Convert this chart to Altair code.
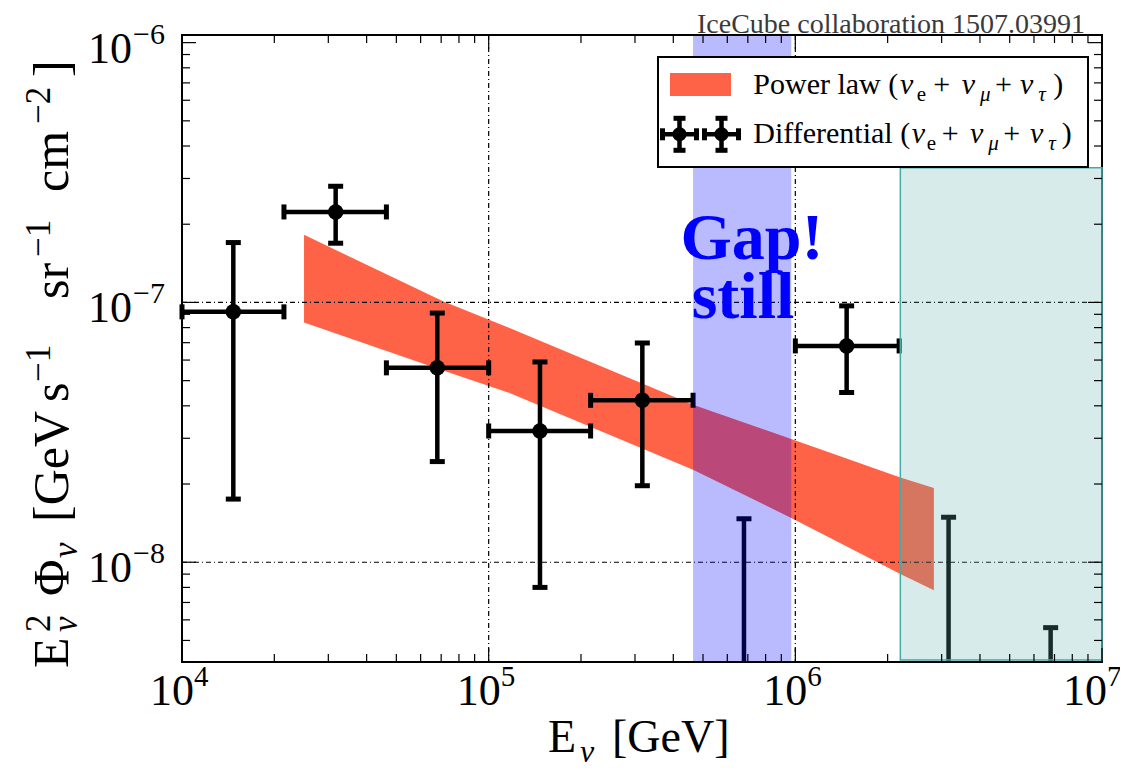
import altair as alt
import pandas as pd

# ---------------- data ----------------
# differential flux points (E^2 Phi, GeV s^-1 sr^-1 cm^-2)
bin_lo = [1.0e4, 2.15e4, 4.64e4, 1.0e5, 2.15e5, 1.0e6]
bin_hi = [2.15e4, 4.64e4, 1.0e5, 2.15e5, 4.64e5, 2.18e6]
e_center = [1.47e4, 3.17e4, 6.8e4, 1.47e5, 3.17e5, 1.47e6]
flux = [9.2e-8, 2.23e-7, 5.6e-8, 3.2e-8, 4.2e-8, 6.8e-8]
flux_lo = [1.75e-8, 1.69e-7, 2.44e-8, 8.0e-9, 1.97e-8, 4.5e-8]
flux_hi = [1.70e-7, 2.80e-7, 9.1e-8, 5.9e-8, 6.98e-8, 9.7e-8]

# upper limits
ul_e = [6.8e5, 3.16e6, 6.8e6]
ul_flux = [1.47e-8, 1.49e-8, 5.6e-9]

# power-law band
band_e = [2.5e4, 7.1e4, 1.17e5, 4.64e5, 9.7e5, 2.2e6, 2.83e6]
band_hi = [1.82e-7, 1.01e-7, 7.97e-8, 4.04e-8, 2.98e-8, 2.12e-8, 1.93e-8]
band_lo = [8.37e-8, 5.47e-8, 4.48e-8, 2.27e-8, 1.48e-8, 9.0e-9, 7.8e-9]

# shaded regions
gap_e = [4.64e5, 9.7e5]
box_e = [2.2e6, 1.0e7]
box_f = [4.2e-9, 3.3e-7]

# axes
XMIN, XMAX = 1e4, 1e7
YMIN, YMAX = 4.13e-9, 1.07e-6
x_major = [1e4, 1e5, 1e6, 1e7]
x_major_exp = ["4", "5", "6", "7"]
y_major = [1e-8, 1e-7, 1e-6]
y_major_exp = ["\u22128", "\u22127", "\u22126"]
x_minor = [k * 10 ** d for d in (4, 5, 6) for k in range(2, 10)]
y_minor = [k * 1e-9 for k in range(5, 10)] + [k * 1e-8 for k in range(2, 10)] + [k * 1e-7 for k in range(2, 10)]
grid_x = [1e5, 1e6]
grid_y = [1e-8, 1e-7]

# ---------------- layout ----------------
W, H = 920, 627
OX, OY = 182, 35   # plot origin on the page
SERIF = "Liberation Serif"

xs = alt.Scale(type="log", domain=[XMIN, XMAX], nice=False)
ys = alt.Scale(type="log", domain=[YMIN, YMAX], nice=False)


def X(f):
    return alt.X(f, type="quantitative", scale=xs, axis=None)


def Y(f):
    return alt.Y(f, type="quantitative", scale=ys, axis=None)


pts = pd.DataFrame(dict(e=e_center, lo=bin_lo, hi=bin_hi, f=flux, flo=flux_lo, fhi=flux_hi))
ul = pd.DataFrame(dict(e=ul_e, f=ul_flux))
band = pd.DataFrame(dict(e=band_e, hi=band_hi, lo=band_lo))
gap = pd.DataFrame(dict(a=[gap_e[0]], b=[gap_e[1]]))
box = pd.DataFrame(dict(a=[box_e[0]], b=[box_e[1]], c=[box_f[0]], d=[box_f[1]]))

layers = []

# power-law band
layers.append(alt.Chart(band).mark_area(color="#ff6347", opacity=1).encode(x=X("e"), y=Y("hi"), y2="lo"))

# gridlines
dash = [5, 3, 1, 3]
layers.append(alt.Chart(pd.DataFrame(dict(v=grid_x))).mark_rule(color="black", strokeWidth=1.2, strokeDash=dash)
              .encode(x=X("v"), y=alt.value(0), y2=alt.value(H)))
layers.append(alt.Chart(pd.DataFrame(dict(v=grid_y))).mark_rule(color="black", strokeWidth=1.2, strokeDash=dash)
              .encode(y=Y("v"), x=alt.value(0), x2=alt.value(W)))

# error bars
EW, CAPW, CAPL = 4.5, 5, 15
layers.append(alt.Chart(pts).mark_rule(color="black", strokeWidth=EW).encode(x=X("e"), y=Y("flo"), y2="fhi"))
layers.append(alt.Chart(pts).mark_rule(color="black", strokeWidth=EW).encode(x=X("lo"), x2="hi", y=Y("f")))
layers.append(alt.Chart(pts).mark_tick(color="black", orient="horizontal", thickness=CAPW, size=CAPL, opacity=1)
              .encode(x=X("e"), y=Y("flo")))
layers.append(alt.Chart(pts).mark_tick(color="black", orient="horizontal", thickness=CAPW, size=CAPL, opacity=1)
              .encode(x=X("e"), y=Y("fhi")))
layers.append(alt.Chart(pts).mark_tick(color="black", orient="vertical", thickness=CAPW, size=CAPL, opacity=1)
              .encode(x=X("lo"), y=Y("f")))
layers.append(alt.Chart(pts).mark_tick(color="black", orient="vertical", thickness=CAPW, size=CAPL, opacity=1)
              .encode(x=X("hi"), y=Y("f")))
layers.append(alt.Chart(pts).mark_circle(color="black", size=240, opacity=1).encode(x=X("e"), y=Y("f")))

# upper limits
layers.append(alt.Chart(ul).mark_rule(color="black", strokeWidth=EW).encode(x=X("e"), y=Y("f"), y2=alt.value(H)))
layers.append(alt.Chart(ul).mark_tick(color="black", orient="horizontal", thickness=CAPW, size=CAPL, opacity=1)
              .encode(x=X("e"), y=Y("f")))

# gap band & teal box
layers.append(alt.Chart(gap).mark_rect(color="#0000ff", opacity=0.27)
              .encode(x=X("a"), x2="b", y=alt.value(0), y2=alt.value(H)))
layers.append(alt.Chart(box).mark_rect(fill="#5fafaa", fillOpacity=0.25, stroke="#45aaa4", strokeWidth=1.5)
              .encode(x=X("a"), x2="b", y=Y("c"), y2="d"))

# inward ticks on all four sides
for vals, L in ((x_major, 14), (x_minor, 8)):
    d = pd.DataFrame(dict(v=vals))
    layers.append(alt.Chart(d).mark_rule(color="black", strokeWidth=1.2)
                  .encode(x=X("v"), y=alt.value(H), y2=alt.value(H - L)))
    layers.append(alt.Chart(d).mark_rule(color="black", strokeWidth=1.2)
                  .encode(x=X("v"), y=alt.value(0), y2=alt.value(L)))
for vals, L in ((y_major, 14), (y_minor, 8)):
    d = pd.DataFrame(dict(v=vals))
    layers.append(alt.Chart(d).mark_rule(color="black", strokeWidth=1.2)
                  .encode(y=Y("v"), x=alt.value(0), x2=alt.value(L)))
    layers.append(alt.Chart(d).mark_rule(color="black", strokeWidth=1.2)
                  .encode(y=Y("v"), x=alt.value(W), x2=alt.value(W - L)))

# tick labels (10 + superscript exponent); the last x label is nudged left to stay on the page
xl = pd.DataFrame(dict(v=x_major, ex=x_major_exp))
for sub, shift in ((xl.iloc[:3], 12), (xl.iloc[3:], 5)):
    layers.append(alt.Chart(sub).mark_text(text="10", font=SERIF, fontSize=44, align="right", baseline="alphabetic", dx=shift)
                  .encode(x=X("v"), y=alt.value(H + 43)))
    layers.append(alt.Chart(sub).mark_text(font=SERIF, fontSize=29, align="left", baseline="alphabetic", dx=shift)
                  .encode(x=X("v"), y=alt.value(H + 24), text="ex:N"))
yl = pd.DataFrame(dict(v=y_major, ex=y_major_exp))
layers.append(alt.Chart(yl).mark_text(text="10", font=SERIF, fontSize=44, align="right", baseline="alphabetic", dy=20)
              .encode(y=Y("v"), x=alt.value(-50)))
layers.append(alt.Chart(yl).mark_text(font=SERIF, fontSize=30, align="left", baseline="alphabetic", dy=1)
              .encode(y=Y("v"), x=alt.value(-49), text="ex:N"))


def text_layer(pieces, size, italic=False, bold=False, color="black", angle=0, align="left"):
    df = pd.DataFrame(pieces, columns=["t", "px", "py"])
    df["px"] = df["px"] - OX
    df["py"] = df["py"] - OY
    return alt.Chart(df).mark_text(
        font=SERIF, fontSize=size, fontStyle="italic" if italic else "normal",
        fontWeight="bold" if bold else "normal", color=color, align=align,
        baseline="alphabetic", angle=angle,
    ).encode(x=alt.X("px:Q", scale=None, axis=None), y=alt.Y("py:Q", scale=None, axis=None), text="t:N")


# legend frame, patch and error-bar icons
leg = pd.DataFrame(dict(x1=[658 - OX], x2=[1088 - OX], y1=[57 - OY], y2=[167 - OY]))
layers.append(alt.Chart(leg).mark_rect(fill="white", stroke="black", strokeWidth=2)
              .encode(x=alt.X("x1:Q", scale=None, axis=None), x2="x2:Q", y=alt.Y("y1:Q", scale=None, axis=None), y2="y2:Q"))
patch = pd.DataFrame(dict(x1=[670 - OX], x2=[731 - OX], y1=[73 - OY], y2=[96 - OY]))
layers.append(alt.Chart(patch).mark_rect(fill="#ff6347")
              .encode(x=alt.X("x1:Q", scale=None, axis=None), x2="x2:Q", y=alt.Y("y1:Q", scale=None, axis=None), y2="y2:Q"))
icons = pd.DataFrame(dict(cx=[679.5 - OX, 721.5 - OX], cy=[134.3 - OY, 134.3 - OY]))
icons["l"] = icons.cx - 17
icons["r"] = icons.cx + 17
icons["t"] = icons.cy - 16
icons["b"] = icons.cy + 16
NX = dict(scale=None, axis=None)
layers.append(alt.Chart(icons).mark_rule(color="black", strokeWidth=EW)
              .encode(x=alt.X("l:Q", **NX), x2="r:Q", y=alt.Y("cy:Q", **NX)))
layers.append(alt.Chart(icons).mark_rule(color="black", strokeWidth=EW)
              .encode(x=alt.X("cx:Q", **NX), y=alt.Y("t:Q", **NX), y2="b:Q"))
for xf, yf, o in (("l", "cy", "vertical"), ("r", "cy", "vertical"), ("cx", "t", "horizontal"), ("cx", "b", "horizontal")):
    layers.append(alt.Chart(icons).mark_tick(color="black", orient=o, thickness=CAPW, size=12, opacity=1)
                  .encode(x=alt.X(f"{xf}:Q", **NX), y=alt.Y(f"{yf}:Q", **NX)))
layers.append(alt.Chart(icons).mark_circle(color="black", size=200, opacity=1)
              .encode(x=alt.X("cx:Q", **NX), y=alt.Y("cy:Q", **NX)))

# legend texts
R1, R1s, R2, R2s = 94.3, 100.5, 143.3, 149.5
layers.append(text_layer([("Power law (", 753.3, R1), ("+", 933.3, R1), ("+", 995, R1), (")", 1053.3, R1),
                          ("Differential (", 753.3, R2), ("+", 941.7, R2), ("+", 1003.3, R2), (")", 1061.7, R2)], 30))
layers.append(text_layer([("\u03bd", 900, R1), ("\u03bd", 961.7, R1), ("\u03bd", 1020, R1),
                          ("\u03bd", 911.7, R2), ("\u03bd", 970, R2), ("\u03bd", 1030, R2)], 30, italic=True))
layers.append(text_layer([("e", 916.7, R1s), ("e", 926.7, R2s)], 21))
layers.append(text_layer([("\u03bc", 980, R1s), ("\u03c4", 1038.3, R1s),
                          ("\u03bc", 988.3, R2s), ("\u03c4", 1048.3, R2s)], 21, italic=True))

# Gap! still
layers.append(text_layer([("Gap!", 752, 259), ("still", 743, 318)], 66, bold=True, color="#0000ff", align="center"))

# title
layers.append(text_layer([("IceCube collaboration 1507.03991", 1085, 33)], 28, color="#3a3a3a", align="right"))

# x-axis title
layers.append(text_layer([("E", 548, 752), ("[GeV]", 612, 752)], 46))
layers.append(text_layer([("\u03bd", 580, 762)], 32, italic=True))

# y-axis title (rotated pieces)
YB, YSUP, YSUB = 68, 50, 77
layers.append(text_layer([("E", YB, 668), ("\u03a6", YB, 596), ("[GeV", YB, 522), ("s", YB, 402),
                          ("sr", YB, 299), ("cm", YB, 192), ("]", YB, 77)], 50, angle=270))
layers.append(text_layer([("2", YSUP, 632), ("\u22121", YSUP, 382), ("\u22121", YSUP, 257), ("\u22122", YSUP, 124)],
                         35, angle=270))
layers.append(text_layer([("\u03bd", YSUB, 632), ("\u03bd", YSUB, 558)], 35, italic=True, angle=270))

chart = alt.layer(*layers).resolve_scale(x="independent", y="independent").properties(
    width=W, height=H,
    autosize=alt.AutoSizeParams(type="none"),
    padding={"left": OX - 8, "top": OY - 8, "right": 18, "bottom": 108},
).configure_view(stroke="black", strokeWidth=2)

chart.save("out.html", embed_options={"renderer": "svg", "actions": False})
